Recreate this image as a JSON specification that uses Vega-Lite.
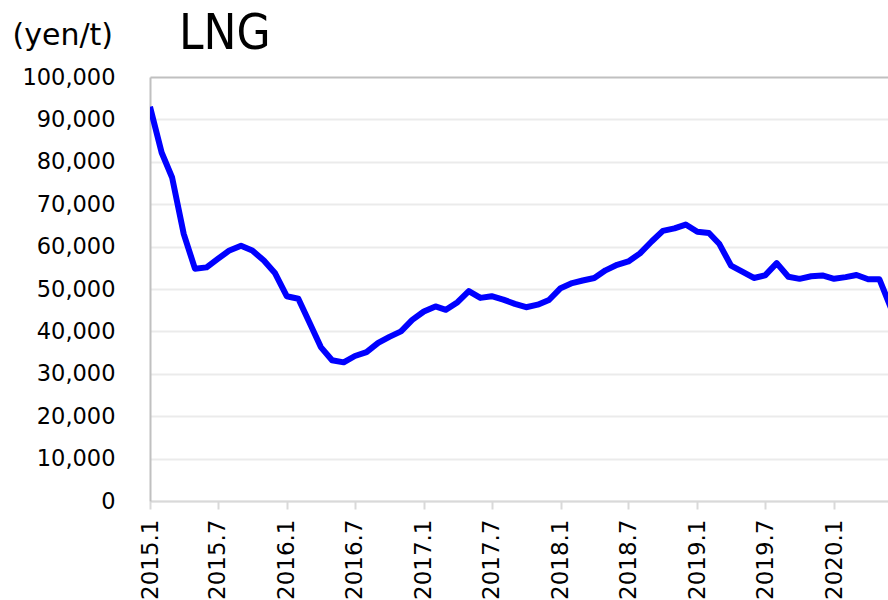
{
  "$schema": "https://vega.github.io/schema/vega-lite/v6.json",
  "autosize": {"type": "none"},
  "padding": {"left": 150, "top": 77, "right": 0, "bottom": 99},
  "width": 738,
  "height": 424,
  "background": "white",
  "config": {"view": {"stroke": null}},
  "title": {
    "text": "LNG",
    "anchor": "start",
    "frame": "group",
    "dx": 29,
    "dy": 78,
    "offset": 0,
    "baseline": "alphabetic",
    "font": "DejaVu Sans Condensed",
    "fontSize": 49,
    "fontWeight": "normal",
    "color": "#000000"
  },
  "data": {
    "values": [
      {"month": "2015-01-01", "price": 93000},
      {"month": "2015-02-01", "price": 82200},
      {"month": "2015-03-01", "price": 76300},
      {"month": "2015-04-01", "price": 63000},
      {"month": "2015-05-01", "price": 54800},
      {"month": "2015-06-01", "price": 55100},
      {"month": "2015-07-01", "price": 57100},
      {"month": "2015-08-01", "price": 59100},
      {"month": "2015-09-01", "price": 60200},
      {"month": "2015-10-01", "price": 59100},
      {"month": "2015-11-01", "price": 56700},
      {"month": "2015-12-01", "price": 53700},
      {"month": "2016-01-01", "price": 48300},
      {"month": "2016-02-01", "price": 47700},
      {"month": "2016-03-01", "price": 42200},
      {"month": "2016-04-01", "price": 36300},
      {"month": "2016-05-01", "price": 33200},
      {"month": "2016-06-01", "price": 32700},
      {"month": "2016-07-01", "price": 34200},
      {"month": "2016-08-01", "price": 35100},
      {"month": "2016-09-01", "price": 37300},
      {"month": "2016-10-01", "price": 38700},
      {"month": "2016-11-01", "price": 40000},
      {"month": "2016-12-01", "price": 42700},
      {"month": "2017-01-01", "price": 44700},
      {"month": "2017-02-01", "price": 45900},
      {"month": "2017-03-01", "price": 45100},
      {"month": "2017-04-01", "price": 46900},
      {"month": "2017-05-01", "price": 49500},
      {"month": "2017-06-01", "price": 47900},
      {"month": "2017-07-01", "price": 48300},
      {"month": "2017-08-01", "price": 47500},
      {"month": "2017-09-01", "price": 46500},
      {"month": "2017-10-01", "price": 45700},
      {"month": "2017-11-01", "price": 46300},
      {"month": "2017-12-01", "price": 47400},
      {"month": "2018-01-01", "price": 50200},
      {"month": "2018-02-01", "price": 51400},
      {"month": "2018-03-01", "price": 52000},
      {"month": "2018-04-01", "price": 52600},
      {"month": "2018-05-01", "price": 54400},
      {"month": "2018-06-01", "price": 55700},
      {"month": "2018-07-01", "price": 56500},
      {"month": "2018-08-01", "price": 58400},
      {"month": "2018-09-01", "price": 61200},
      {"month": "2018-10-01", "price": 63700},
      {"month": "2018-11-01", "price": 64300},
      {"month": "2018-12-01", "price": 65200},
      {"month": "2019-01-01", "price": 63500},
      {"month": "2019-02-01", "price": 63200},
      {"month": "2019-03-01", "price": 60600},
      {"month": "2019-04-01", "price": 55500},
      {"month": "2019-05-01", "price": 54100},
      {"month": "2019-06-01", "price": 52600},
      {"month": "2019-07-01", "price": 53200},
      {"month": "2019-08-01", "price": 56100},
      {"month": "2019-09-01", "price": 52900},
      {"month": "2019-10-01", "price": 52400},
      {"month": "2019-11-01", "price": 53000},
      {"month": "2019-12-01", "price": 53200},
      {"month": "2020-01-01", "price": 52400},
      {"month": "2020-02-01", "price": 52800},
      {"month": "2020-03-01", "price": 53300},
      {"month": "2020-04-01", "price": 52300},
      {"month": "2020-05-01", "price": 52300},
      {"month": "2020-06-01", "price": 45500}
    ]
  },
  "mark": {"type": "line", "color": "#0000FF", "strokeWidth": 6, "clip": true, "strokeJoin": "round", "strokeCap": "butt"},
  "encoding": {
    "x": {
      "field": "month",
      "type": "temporal",
      "scale": {
        "type": "utc",
        "domain": [
          {"year": 2015, "month": 1, "date": 1, "utc": true},
          {"year": 2020, "month": 5, "date": 24, "utc": true}
        ]
      },
      "axis": {
        "title": null,
        "values": [
          {"year": 2015, "month": 1, "date": 1, "utc": true},
          {"year": 2015, "month": 7, "date": 1, "utc": true},
          {"year": 2016, "month": 1, "date": 1, "utc": true},
          {"year": 2016, "month": 7, "date": 1, "utc": true},
          {"year": 2017, "month": 1, "date": 1, "utc": true},
          {"year": 2017, "month": 7, "date": 1, "utc": true},
          {"year": 2018, "month": 1, "date": 1, "utc": true},
          {"year": 2018, "month": 7, "date": 1, "utc": true},
          {"year": 2019, "month": 1, "date": 1, "utc": true},
          {"year": 2019, "month": 7, "date": 1, "utc": true},
          {"year": 2020, "month": 1, "date": 1, "utc": true}
        ],
        "labelExpr": "utcFormat(datum.value, '%Y.%-m')",
        "labelAngle": -90,
        "labelAlign": "right",
        "labelBaseline": "middle",
        "labelFont": "DejaVu Sans",
        "labelFontSize": 23,
        "labelColor": "#000000",
        "labelPadding": 10,
        "labelOverlap": false,
        "labelFlush": false,
        "grid": false,
        "domainColor": "#d9d9d9",
        "domainWidth": 2,
        "tickColor": "#d9d9d9",
        "tickWidth": 2,
        "tickSize": 8
      }
    },
    "y": {
      "field": "price",
      "type": "quantitative",
      "scale": {"domain": [0, 100000], "nice": false, "zero": true},
      "axis": {
        "title": "(yen/t)",
        "titleAngle": 0,
        "titleAlign": "left",
        "titleBaseline": "alphabetic",
        "titleX": -138,
        "titleY": -33,
        "titleFont": "DejaVu Sans",
        "titleFontSize": 30,
        "titleFontWeight": "normal",
        "titleColor": "#000000",
        "values": [0, 10000, 20000, 30000, 40000, 50000, 60000, 70000, 80000, 90000, 100000],
        "format": ",d",
        "labelFont": "DejaVu Sans",
        "labelFontSize": 22.5,
        "labelColor": "#000000",
        "labelPadding": 35,
        "labelFlush": false,
        "labelOverlap": false,
        "ticks": false,
        "domainColor": "#c0c0c0",
        "domainWidth": 2,
        "grid": true,
        "gridColor": {"condition": {"test": "datum.value === 100000", "value": "#c0c0c0"}, "value": "#ebebeb"},
        "gridWidth": 2
      }
    }
  }
}
